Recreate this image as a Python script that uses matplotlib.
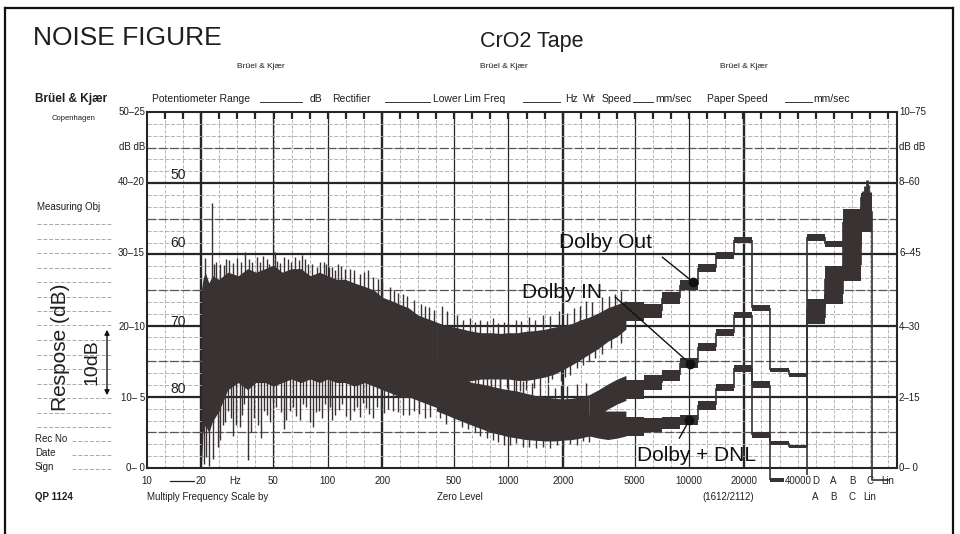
import numpy as np
import matplotlib.pyplot as plt
from matplotlib.lines import Line2D

plt.rcParams['font.family'] = ['Liberation Sans', 'DejaVu Sans']

# ---------------- data (Hz, dB) ----------------
# low-frequency noise body, all three recordings overlap here
lo_freq = [20, 20.4, 21, 22, 23, 25, 28, 32, 36, 40, 45, 50, 56, 63, 71, 80, 90,
           100, 112, 125, 140, 160, 180, 200, 225, 250, 280, 315, 355, 400]
lo_top = [25, 26.5, 27.5, 26, 27, 26.5, 27.5, 27, 28, 27.5, 28, 28.5, 27.5, 28, 28,
          27, 27.5, 27, 26.5, 26.5, 26, 25.5, 25, 24, 23.5, 23, 22.5, 21.5, 21, 20.5]
lo_bot = [0, 5, 6, 5, 6.5, 8, 11, 12, 11, 12, 12, 11.5, 12, 12.5, 12, 12.5, 12,
          12.5, 12, 12, 11.5, 12, 11.5, 11, 10.5, 10, 10, 9.5, 9, 8.5]
lo_up_f = [21.0, 22.9, 24.2, 26.8, 28.6, 31.4, 34.8, 38.0, 40.5, 44.0, 47.5, 50.9,
           54.5, 60.0, 66.0, 72.0, 78.0, 87.0, 95.0, 102, 110, 118, 133, 150, 168,
           190, 220, 245, 275, 330, 365,
           23.5, 25.5, 27.5, 30, 33, 36.5, 42, 46, 52.5, 57, 63, 69, 75, 82, 91, 98,
           106, 114, 125, 140, 158, 178, 200, 232, 260, 300, 345, 385]
lo_up_db = [29.5, 37.2, 29.0, 28.5, 29.2, 29.5, 30.3, 29.0, 29.6, 29.8, 28.6, 30.3,
            28.8, 29.4, 29.6, 29.9, 28.6, 28.3, 28.9, 28.3, 27.8, 28.4, 28.0, 27.3,
            27.8, 26.5, 25.4, 24.6, 24.2, 23.0, 22.6,
            28.7, 28.6, 29.3, 28.8, 29.0, 29.4, 28.9, 29.3, 29.1, 29.6, 28.9, 29.2,
            29.4, 28.7, 29.0, 28.6, 28.2, 28.6, 27.9, 27.8, 27.5, 26.8, 26.1, 25.0,
            24.5, 23.6, 22.8, 22.2]
lo_dn_f = [20.6, 21.3, 22.0, 23.3, 24.6, 26.3, 28.0, 30.0, 32.6, 34.2, 36.0, 39.0,
           43.0, 46.0, 50.0, 55.0, 59.0, 64.0, 70.0, 76.0, 83.0, 90.0, 96.0, 103,
           110, 120, 133, 145, 156, 170, 187, 205, 230, 260, 300, 345,
           25.5, 27, 29, 31, 33.5, 37.5, 41, 44.5, 48, 52, 57, 61.5, 67, 73, 79.5,
           86.5, 93, 100, 106, 115, 126, 139, 150, 163, 178, 196, 215, 245, 280,
           320, 370]
lo_dn_db = [0.5, 1.5, 0.3, 1.3, 3.0, 6.0, 8.0, 4.5, 5.8, 9.0, 1.1, 7.0, 4.2, 7.5,
            9.1, 7.8, 6.7, 8.5, 6.7, 8.5, 5.8, 8.0, 9.0, 8.6, 7.5, 9.0, 6.7, 8.5,
            9.1, 7.6, 8.6, 7.7, 8.0, 7.5, 8.0, 7.0,
            4.0, 6.5, 7.0, 6.0, 7.5, 5.0, 6.0, 8.0, 6.5, 8.5, 5.5, 8.0, 7.3, 9.0,
            6.5, 7.8, 7.0, 8.0, 6.8, 8.2, 7.3, 8.0, 7.2, 8.4, 7.0, 8.2, 8.3, 7.8,
            7.4, 7.6, 7.2]

# Dolby Out band, 400 Hz - 4.5 kHz
mid_freq = [400, 450, 500, 560, 630, 710, 800, 900, 1000, 1120, 1250, 1400, 1600,
            1800, 2000, 2250, 2500, 2800, 3150, 3550, 4000, 4467]
out_top = [20.5, 20, 19.8, 19.5, 19.2, 19, 19, 18.9, 19, 19, 19.2, 19.3, 19.5,
           19.8, 20, 20.3, 20.8, 21.2, 21.8, 22.5, 23, 23.5]
out_bot = [10.5, 11, 11.5, 12, 12.3, 12.5, 12.5, 12.5, 12.5, 12.3, 12.3, 12.5, 12.8,
           13.2, 13.8, 14.5, 15.2, 16, 16.8, 17.8, 18.5, 19.5]
out_up_f = [430, 520, 610, 700, 820, 950, 1100, 1300, 1550, 1900, 2300, 2700, 3300, 3900,
            460, 560, 650, 760, 880, 1000, 1180, 1400, 1700, 2100, 2500, 2900, 3600, 4200]
out_up_db = [22.8, 21.5, 21.0, 20.8, 21.0, 20.5, 20.8, 21.2, 21.5, 22.0, 22.5, 23.5, 24.0, 24.5,
             22.0, 20.8, 20.5, 20.6, 20.3, 20.4, 20.6, 20.8, 21.3, 21.8, 22.8, 23.3, 24.2, 24.8]
out_dn_f = [760, 900, 1080, 1250, 1500, 1750, 2050, 2400, 3000,
            600, 680, 840, 980, 1160, 1380, 1650, 1950, 2200, 2600, 2800, 3300, 3700, 4200]
out_dn_db = [10.8, 11.0, 10.0, 11.0, 11.5, 12.5, 12.8, 14.0, 15.5,
             10.5, 11.2, 10.5, 11.3, 10.8, 11.2, 12.0, 12.2, 13.0, 14.5, 15.0, 16.0, 16.8, 17.5]

# Dolby IN + Dolby/DNL merged band, 400 Hz - 2.8 kHz
low_freq = [400, 450, 500, 560, 630, 710, 800, 900, 1000, 1120, 1250, 1400, 1600,
            1800, 2000, 2250, 2500, 2800]
low_top = [15, 14, 13, 12.5, 12, 11.8, 11.5, 11.2, 11, 10.8, 10.5, 10.2, 10, 9.8,
           9.7, 9.8, 10, 10.3]
low_bot = [8, 7.5, 7, 6.5, 6, 5.5, 5, 4.7, 4.4, 4.2, 4, 3.9, 3.8, 3.8, 3.9, 4, 4.2, 4.5]
low_dn_f = [420, 500, 600, 700, 820, 950, 1100, 1300, 1550, 1850, 2200, 2600,
            450, 550, 650, 760, 880, 1020, 1200, 1420, 1700, 2000, 2400, 2800]
low_dn_db = [7.0, 6.5, 5.5, 4.5, 4.0, 3.3, 3.5, 3.0, 3.0, 3.2, 3.4, 3.8,
             6.2, 5.8, 5.0, 4.2, 3.6, 3.2, 3.0, 2.8, 2.8, 3.0, 3.3, 3.6]
low_up_f = [800, 1000, 1200, 1500, 1800, 2100,
            650, 720, 900, 1100, 1350, 1650, 1950, 2400, 2700]
low_up_db = [12.5, 12.0, 12.2, 11.5, 11.3, 11.5,
             13.0, 12.8, 12.6, 12.4, 12.0, 11.8, 11.6, 11.8, 12.0]

# split of the lower band, 2.8 - 4.5 kHz
split_freq = [2800, 3150, 3550, 4000, 4467]
in_top = [10.3, 11, 11.8, 12.5, 13]
in_bot = [6.5, 7.3, 8.3, 9, 9.5]
dnl_top = [8, 8, 8, 8, 8]
dnl_bot = [4.5, 4.2, 4.0, 4.2, 4.5]

# 1/3-octave steps 5 kHz ... 40 kHz (band edges), then D, A, B, C columns
step_edges = [4467, 5623, 7079, 8913, 11220, 14125, 17783, 22387, 28184, 35481,
              44668, 56234, 70795, 89125, 102600]
out_steps = [22.0, 22.0, 23.9, 25.7, 28.1, 29.9, 32.0, 22.5, 13.8, 13.1,
             32.4, 31.5, 34.5, 38.0]
in_steps = [11.0, 12.0, 13.0, 14.7, 17.0, 19.0, 21.5, 11.7, 3.5, 3.0,
            22.5, 26.5, 31.0, 36.5]
dnl_steps = [5.8, 6.0, 6.3, 6.7, 8.8, 11.3, 14.0, 4.6, -1.7, -1.7,
             21.0, 24.5, 28.5, 35.0]
step_ripple = [1.3, 1.0, 0.8, 0.7, 0.6, 0.5, 0.45, 0.45, 0.25, 0.25, 0.45, 0.45, 0.45, 0.45]

# weighted-level blocks D, A, B, C
wt_edges = [44668, 56234, 70795, 89125, 102600]
wt_top = [23.8, 28.4, 36.4, 38.6]
wt_bot = [20.2, 23.0, 26.2, 33.2]
c_peak_f = [92000, 94500, 96100, 98000, 100500]
c_peak_db = [38.9, 39.6, 40.5, 39.8, 38.8]
lin_f = [102600, 102600, 125900]
lin_db = [36.0, -1.7, -1.7]

# pointers (line start, dot)
dots_f = [10540, 10160, 10000]
dots_db = [26.1, 14.6, 6.7]
lead_f = [7110, 3900, 8830]
lead_db = [29.6, 24.0, 4.2]

freq_ticks = [10, 20, 50, 100, 200, 500, 1000, 2000, 5000, 10000, 20000, 40000]
wt_names = ['D', 'A', 'B', 'C', 'Lin']
wt_names2 = ['A', 'B', 'C', 'Lin']
wt_pos = [50000, 63000, 80000, 100000, 125900]

INK = '#383232'
GRID = '#262626'
FAINT = '#a8a8a8'

W, H = 960, 534
def fx(x): return x / W
def fy(y): return 1 - y / H

fig = plt.figure(figsize=(9.6, 5.34), dpi=100)
ax = fig.add_axes([fx(147), fy(468), (897 - 147) / W, (468 - 112) / H])
ax.set_xscale('log')
ax.set_xlim(10, 141254)
ax.set_ylim(0, 50)

# ---------------- chart paper ----------------
third = 10 ** (np.arange(11, 52) / 10)
for f in third:
    ax.axvline(f, color=FAINT, lw=0.6, ls=(0, (4, 2)), zorder=1)
for f in [50, 100, 500, 1000, 5000, 10000]:
    ax.axvline(f, color=GRID, lw=0.9, zorder=1)
for f in [20, 200, 2000, 20000]:
    ax.axvline(f, color=GRID, lw=1.7, zorder=1)
for d in np.arange(0, 50, 10 / 6):
    ax.axhline(d, color=FAINT, lw=0.6, ls=(0, (5, 2)), zorder=1)
for d in [5, 15, 25, 35, 45]:
    ax.axhline(d, color='#555555', lw=0.9, ls=(0, (7, 2)), zorder=1)
for d in [10, 20, 30, 40]:
    ax.axhline(d, color=GRID, lw=1.6, zorder=1)

ax.set_xticks(third)
ax.set_xticklabels([])
ax.minorticks_off()
ax.tick_params(axis='x', which='major', top=True, bottom=False, direction='in',
               length=5, width=1.6, color=GRID)
ax.set_yticks([])
for s in ax.spines.values():
    s.set_color(GRID)
    s.set_linewidth(1.5)

# ---------------- recordings ----------------
kw = dict(color=INK, lw=0, zorder=3)
ax.fill_between(lo_freq, lo_bot, lo_top, **kw)
ax.fill_between(mid_freq, out_bot, out_top, **kw)
ax.fill_between(low_freq, low_bot, low_top, **kw)
ax.fill_between(split_freq, in_bot, in_top, **kw)
ax.fill_between(split_freq, dnl_bot, dnl_top, **kw)

def spikes(f, tip, bf, bv):
    base = np.interp(np.log10(f), np.log10(bf), bv)
    ax.vlines(f, base, tip, color=INK, lw=1.0, zorder=3)

lo_mid = [(a + b) / 2 for a, b in zip(lo_top, lo_bot)]
out_mid = [(a + b) / 2 for a, b in zip(out_top, out_bot)]
low_mid = [(a + b) / 2 for a, b in zip(low_top, low_bot)]
spikes(lo_up_f, lo_up_db, lo_freq, lo_mid)
spikes(lo_dn_f, lo_dn_db, lo_freq, lo_mid)
spikes(out_up_f, out_up_db, mid_freq, out_mid)
spikes(out_dn_f, out_dn_db, mid_freq, out_mid)
spikes(low_dn_f, low_dn_db, low_freq, low_mid)
spikes(low_up_f, low_up_db, low_freq, low_mid)

for vals in (out_steps, in_steps, dnl_steps):
    lo = [v - r for v, r in zip(vals, step_ripple)]
    hi = [v + r for v, r in zip(vals, step_ripple)]
    ax.fill_between(step_edges, lo + [lo[-1]], hi + [hi[-1]], step='post',
                    color=INK, lw=0, zorder=3, clip_on=False)
    ax.vlines(step_edges[1:-1], vals[:-1], vals[1:], color=INK, lw=1.2,
              zorder=3, clip_on=False)

ax.fill_between(wt_edges, wt_bot + [wt_bot[-1]], wt_top + [wt_top[-1]], step='post',
                color=INK, lw=0, zorder=3)
ax.vlines(c_peak_f, 36, c_peak_db, color=INK, lw=2, zorder=3)
ax.plot(lin_f, lin_db, color=INK, lw=1.2, zorder=3, clip_on=False)

# pointers
ax.plot(dots_f, dots_db, 'o', color='#111111', ms=6, zorder=4)
for lf, ld, df, dd in zip(lead_f, lead_db, dots_f, dots_db):
    ax.plot([lf, df], [ld, dd], color='#111111', lw=1.0, zorder=4)
ax.text(3435, 31.7, 'Dolby Out', ha='center', va='center', fontsize=15, color='#111111', zorder=5)
ax.text(1986, 24.6, 'Dolby IN', ha='center', va='center', fontsize=15, color='#111111', zorder=5)
ax.text(10970, 1.8, 'Dolby + DNL', ha='center', va='center', fontsize=15, color='#111111', zorder=5)

# level numbers printed inside the grid
for d, s in zip([41.2, 31.6, 20.5, 11.1], ['50', '60', '70', '80']):
    ax.text(14.85, d, s, ha='center', va='center', fontsize=10, color='#222222', zorder=2)

# frequency scale
xt = ax.get_xaxis_transform()
lab = dict(transform=xt, ha='center', va='center', fontsize=7, color='#222222', zorder=6)
for f in freq_ticks:
    ax.text(f, -0.037, str(f), bbox=dict(fc='white', ec='none', pad=0.5), **lab)
ax.text(30.6, -0.037, 'Hz', **lab)
ax.plot([13.4, 18.4], [-0.037, -0.037], transform=xt, color='#222222', lw=0.9, clip_on=False)
for f, s in zip(wt_pos, wt_names):
    ax.text(f, -0.037, s, **lab)
for f, s in zip(wt_pos, wt_names2):
    ax.text(f, -0.082, s, **lab)

# ---------------- printed form around the grid ----------------
def ftext(x, y, s, **k):
    k.setdefault('fontsize', 7)
    k.setdefault('color', '#1e1e1e')
    k.setdefault('va', 'center')
    fig.text(fx(x), fy(y), s, **k)

def fline(x0, x1, y0, y1, **k):
    fig.add_artist(Line2D([fx(x0), fx(x1)], [fy(y0), fy(y1)], **k))

ftext(33, 38, 'NOISE FIGURE', fontsize=19)
ftext(480, 42, 'CrO2 Tape', fontsize=15.5)
for x in (237, 480, 720):
    ftext(x, 67, 'Brüel & Kjær', fontsize=6)
ftext(35, 99, 'Brüel & Kjær', fontsize=8.5, fontweight='bold')
ftext(52, 119, 'Copenhagen', fontsize=5.5)
ftext(37, 207, 'Measuring Obj', fontsize=7)
ftext(35, 439, 'Rec No', fontsize=7)
ftext(35, 453, 'Date', fontsize=7)
ftext(35, 467, 'Sign', fontsize=7)
ftext(35, 497, 'QP 1124', fontsize=7, fontweight='bold')
ftext(147, 497, 'Multiply Frequency Scale by', fontsize=7)
ftext(460, 497, 'Zero Level', fontsize=7, ha='center')
ftext(728, 497, '(1612/2112)', fontsize=7, ha='center')

header = [(152, 'Potentiometer Range'), (310, 'dB'), (332, 'Rectifier'),
          (433, 'Lower Lim Freq'), (565, 'Hz'), (583, 'Wr'), (602, 'Speed'),
          (655, 'mm/sec'), (707, 'Paper Speed'), (813, 'mm/sec')]
for x, s in header:
    ftext(x, 99, s, fontsize=7.5)
for x0, x1 in [(260, 302), (385, 430), (523, 560), (633, 653), (785, 812)]:
    fline(x0, x1, 102, 102, color='#333333', lw=0.7)

for y, s in [(112, '50–25'), (147, 'dB dB'), (182, '40–20'), (253, '30–15'),
             (327, '20–10'), (398, '10– 5'), (468, '0– 0')]:
    ftext(145, y, s, ha='right', fontsize=7)
for y, s in [(112, '10–75'), (147, 'dB dB'), (182, '8–60'), (253, '6–45'),
             (327, '4–30'), (398, '2–15'), (468, '0– 0')]:
    ftext(899, y, s, ha='left', fontsize=7)

for y in [224, 239, 253, 268, 282, 297, 311, 325, 340, 355, 369, 384, 398, 413, 427]:
    fline(37, 112, y, y, color=FAINT, lw=0.7, ls=(0, (4, 2)))
for y in [441, 455, 469]:
    fline(72, 112, y, y, color=FAINT, lw=0.7, ls=(0, (4, 2)))

ftext(61, 347, 'Respose (dB)', fontsize=15, rotation=90, ha='center')
ftext(92, 362, '10dB', fontsize=14, rotation=90, ha='center')
fig.add_artist(plt.Annotation('', xy=(fx(107), fy(327)), xytext=(fx(107), fy(398)),
                              xycoords='figure fraction', textcoords='figure fraction',
                              arrowprops=dict(arrowstyle='<|-|>', color='#111111', lw=1,
                                              mutation_scale=7)))

# outer border of the form
fline(5, 5, 8, 534, color='#111111', lw=1.6)
fline(5, 953, 8, 8, color='#111111', lw=1.6)
fline(953, 953, 8, 534, color='#111111', lw=1.6)

fig.savefig('out.png', dpi=100, facecolor='white')
